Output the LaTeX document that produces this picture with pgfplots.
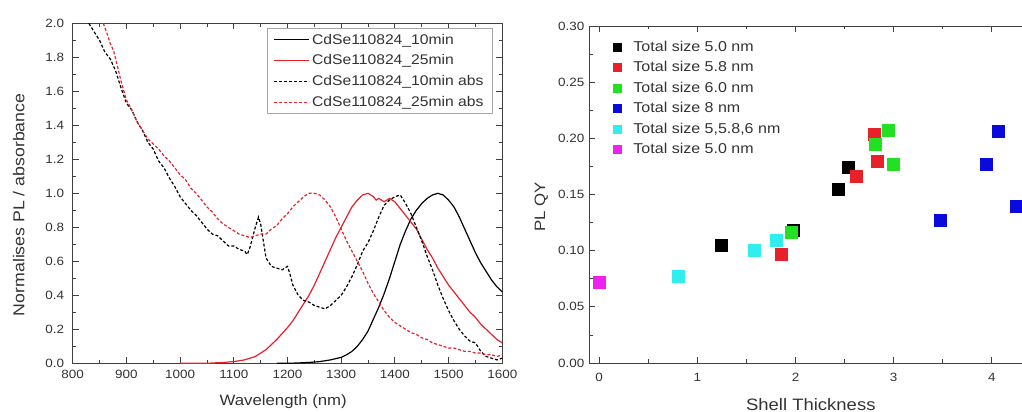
\documentclass[border=0pt]{standalone}
\usepackage{pgfplots}
\pgfplotsset{compat=1.18}
\usepackage{fontspec}
\setmainfont{Liberation Sans}[FakeStretch=1.12]
\definecolor{axgray}{HTML}{404040}
\definecolor{txtgray}{HTML}{333333}
\definecolor{myred}{HTML}{E8202A}
\definecolor{mygreen}{HTML}{22E022}
\definecolor{myblue}{HTML}{0A0ADC}
\definecolor{mycyan}{HTML}{30EEEE}
\definecolor{mymag}{HTML}{EE22EE}
\newcommand{\tickfont}{\fontsize{12}{13}\selectfont}
\newcommand{\labfont}{\fontsize{15}{17}\selectfont}
\newcommand{\legfont}{\fontsize{14}{16}\selectfont}
\pgfplotsset{
  common/.style={
    scale only axis,
    tick align=inside,
    major tick length=6pt,
    minor tick length=3.5pt,
    axis line style={axgray, line width=0.9pt},
    every tick/.style={axgray, line width=0.8pt},
    tick label style={font=\tickfont, text=txtgray},
    /pgf/number format/assume math mode=true,
    /pgf/number format/set thousands separator={},
    label style={font=\labfont, text=txtgray},
  }
}
\begin{document}
\begin{tikzpicture}
\begin{scope}
\clip (0,0) rectangle (1022pt,412pt);
% ---------------- left chart ----------------
\begin{axis}[common,
  at={(72.7pt,48.7pt)}, anchor=south west,
  width=429.6pt, height=340pt,
  xmin=800, xmax=1600, ymin=0, ymax=2,
  xtick={800,900,1000,1100,1200,1300,1400,1500,1600},
  ytick={0,0.2,0.4,0.6,0.8,1.0,1.2,1.4,1.6,1.8,2.0},
  minor x tick num=1, minor y tick num=1,
  xticklabel style={yshift=-3pt},
  yticklabel style={xshift=-5pt, /pgf/number format/fixed, /pgf/number format/fixed zerofill, /pgf/number format/precision=1},
  scaled y ticks=false,
  xlabel={Wavelength (nm)},
  ylabel={Normalises PL / absorbance},
  xlabel style={at={(axis description cs:0.49,0)}, anchor=north, inner sep=0pt, yshift=-31pt},
  ylabel style={at={(axis description cs:-0.1257,0.466)}, anchor=center, inner sep=0pt, font=\fontsize{15.8}{17}\selectfont},
  legend style={at={(0.978,0.986)}, anchor=north east, draw=gray!70, line width=0.6pt, font=\legfont, text=txtgray,
    inner xsep=7pt, inner ysep=3.5pt, row sep=5.2pt, fill=white},
  legend cell align=left,
  legend image code/.code={\draw[#1] (0pt,0pt) -- (35pt,0pt);},
]
\addplot[black, line width=1.2pt] coordinates {
(1180,0) (1200,0) (1220,0.002) (1240,0.005) (1260,0.01) (1280,0.02) (1300,0.035) (1310,0.05) (1320,0.07) (1330,0.1) (1340,0.14) (1350,0.19) (1360,0.26) (1370,0.33) (1380,0.41) (1390,0.5) (1400,0.6) (1410,0.7) (1420,0.78) (1430,0.85) (1440,0.9) (1450,0.94) (1460,0.97) (1470,0.99) (1480,1.0) (1490,0.99) (1500,0.96) (1510,0.92) (1520,0.86) (1530,0.79) (1540,0.72) (1550,0.65) (1560,0.59) (1570,0.54) (1580,0.49) (1590,0.45) (1600,0.42)
};
\addlegendentry{CdSe110824\_10min}
\addplot[myred, line width=1.2pt] coordinates {
(1000,0) (1050,0) (1080,0.005) (1100,0.01) (1120,0.02) (1140,0.04) (1160,0.08) (1180,0.14) (1200,0.21) (1210,0.25) (1220,0.3) (1230,0.35) (1240,0.4) (1250,0.46) (1260,0.53) (1270,0.6) (1280,0.67) (1290,0.74) (1300,0.8) (1310,0.86) (1320,0.92) (1330,0.96) (1340,0.99) (1350,1.0) (1360,0.98) (1365,0.96) (1370,0.97) (1380,0.95) (1390,0.97) (1400,0.95) (1410,0.91) (1420,0.87) (1430,0.83) (1440,0.79) (1450,0.73) (1460,0.67) (1470,0.62) (1480,0.56) (1490,0.51) (1500,0.46) (1510,0.42) (1520,0.38) (1530,0.34) (1540,0.3) (1550,0.27) (1560,0.23) (1570,0.2) (1580,0.17) (1590,0.14) (1600,0.12)
};
\addlegendentry{CdSe110824\_25min}
\addplot[black, line width=1.2pt, dash pattern=on 3pt off 2pt] coordinates {
(830,2.0) (840,1.95) (850,1.9) (860,1.83) (870,1.79) (880,1.72) (890,1.62) (900,1.53) (910,1.49) (920,1.42) (930,1.37) (940,1.30) (950,1.26) (960,1.19) (970,1.15) (980,1.09) (990,1.04) (1000,0.98) (1010,0.94) (1020,0.90) (1030,0.87) (1040,0.83) (1050,0.79) (1060,0.76) (1070,0.75) (1080,0.72) (1090,0.69) (1100,0.69) (1110,0.67) (1120,0.66) (1125,0.64) (1130,0.68) (1140,0.80) (1146,0.86) (1150,0.82) (1155,0.72) (1160,0.62) (1170,0.57) (1180,0.56) (1190,0.55) (1200,0.57) (1205,0.52) (1210,0.46) (1220,0.40) (1230,0.37) (1240,0.36) (1250,0.34) (1260,0.33) (1270,0.32) (1280,0.34) (1290,0.37) (1300,0.40) (1310,0.45) (1320,0.51) (1330,0.58) (1340,0.66) (1350,0.71) (1360,0.78) (1370,0.86) (1380,0.93) (1390,0.96) (1400,0.98) (1410,0.99) (1420,0.94) (1430,0.88) (1440,0.80) (1450,0.72) (1460,0.63) (1470,0.55) (1480,0.46) (1490,0.38) (1500,0.31) (1510,0.25) (1520,0.20) (1530,0.16) (1540,0.13) (1550,0.12) (1560,0.07) (1570,0.04) (1580,0.03) (1590,0.02) (1600,0.03)
};
\addlegendentry{CdSe110824\_10min abs}
\addplot[myred, line width=1.2pt, dash pattern=on 3pt off 2pt] coordinates {
(857,2.0) (865,1.93) (870,1.88) (876,1.84) (880,1.79) (890,1.66) (900,1.55) (910,1.49) (920,1.42) (930,1.37) (940,1.32) (950,1.29) (960,1.26) (970,1.22) (980,1.19) (990,1.15) (1000,1.11) (1010,1.08) (1020,1.03) (1030,1.0) (1040,0.96) (1050,0.92) (1060,0.89) (1070,0.85) (1080,0.82) (1090,0.80) (1100,0.78) (1110,0.76) (1120,0.75) (1130,0.74) (1140,0.75) (1150,0.76) (1160,0.76) (1170,0.79) (1180,0.81) (1190,0.85) (1200,0.88) (1210,0.92) (1220,0.95) (1230,0.98) (1240,1.0) (1250,1.0) (1260,0.99) (1270,0.96) (1280,0.92) (1290,0.86) (1300,0.79) (1310,0.72) (1320,0.66) (1330,0.60) (1340,0.54) (1350,0.47) (1360,0.41) (1370,0.36) (1380,0.31) (1390,0.27) (1400,0.24) (1410,0.22) (1420,0.20) (1430,0.18) (1440,0.17) (1450,0.15) (1460,0.14) (1470,0.12) (1480,0.11) (1490,0.10) (1500,0.09) (1510,0.09) (1520,0.08) (1530,0.07) (1540,0.07) (1550,0.06) (1560,0.06) (1570,0.05) (1580,0.05) (1590,0.04) (1600,0.05)
};
\addlegendentry{CdSe110824\_25min abs}
\end{axis}
% ---------------- right chart ----------------
\begin{axis}[common,
  at={(589.3pt,49pt)}, anchor=south west,
  width=461.5pt, height=337pt,
  xmin=-0.1, xmax=4.6, ymin=0, ymax=0.3,
  xtick={0,1,2,3,4},
  ytick={0,0.05,0.10,0.15,0.20,0.25,0.30},
  minor x tick num=1, minor y tick num=1,
  xticklabel style={yshift=-7pt},
  yticklabel style={xshift=-1.5pt, /pgf/number format/fixed, /pgf/number format/fixed zerofill, /pgf/number format/precision=2},
  scaled y ticks=false,
  clip=false,
  xlabel={Shell Thickness},
  ylabel={PL QY},
  xlabel style={at={(axis cs:2.156,0)}, anchor=north, inner sep=0pt, yshift=-35pt, font=\fontsize{16.5}{18}\selectfont},
  ylabel style={at={(axis description cs:-0.104,0.463)}, anchor=center, inner sep=0pt},
  legend style={at={(0.045,0.968)}, anchor=north west, draw=none, font=\fontsize{14.3}{16}\selectfont, text=txtgray,
    fill=none, row sep=4.6pt},
  legend cell align=left,
  legend image code/.code={\draw[#1, mark size=4pt] plot coordinates {(0pt,0pt)}; \path (14pt,0pt);},
  only marks,
]
\addplot[mark=square*, mark size=6pt, draw=black, fill=black] coordinates {(1.246,0.1047) (1.976,0.1186) (2.435,0.155) (2.537,0.174)};
\addlegendentry{Total size 5.0 nm}
\addplot[mark=square*, mark size=6pt, draw=myred, fill=myred] coordinates {(1.857,0.0972) (2.621,0.1666) (2.801,0.2034) (2.832,0.180)};
\addlegendentry{Total size 5.8 nm}
\addplot[mark=square*, mark size=6pt, draw=mygreen, fill=mygreen] coordinates {(1.959,0.1162) (2.808,0.195) (2.944,0.207) (2.995,0.177)};
\addlegendentry{Total size 6.0 nm}
\addplot[mark=square*, mark size=6pt, draw=myblue, fill=myblue] coordinates {(3.477,0.1269) (3.939,0.177) (4.068,0.2066) (4.244,0.140)};
\addlegendentry{Total size 8 nm}
\addplot[mark=square*, mark size=6pt, draw=mycyan, fill=mycyan] coordinates {(0.805,0.077) (1.582,0.1002) (1.80,0.1097)};
\addlegendentry{Total size 5,5.8,6 nm}
\addplot[mark=square*, mark size=6pt, draw=mymag, fill=mymag] coordinates {(0,0.0717)};
\addlegendentry{Total size 5.0 nm}
\end{axis}
\end{scope}
\pgfresetboundingbox
\useasboundingbox (0,0) rectangle (1022pt,412pt);
\end{tikzpicture}
\end{document}
